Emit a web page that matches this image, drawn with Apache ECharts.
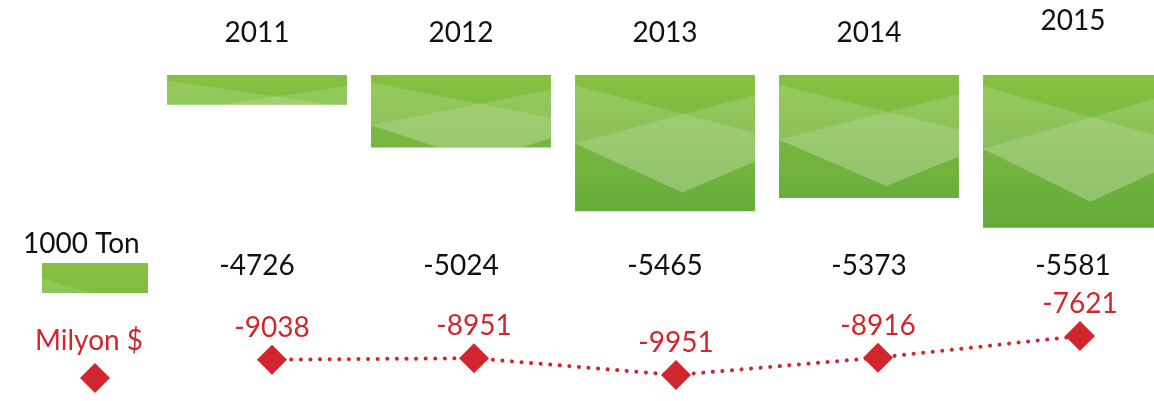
<!DOCTYPE html>
<html>
<head>
<meta charset="utf-8">
<script src="https://cdn.jsdelivr.net/npm/echarts@6/dist/echarts.min.js"></script>
<style>
  html, body { margin: 0; padding: 0; background: #fff; }
  #chart { width: 1154px; height: 401px; }
</style>
</head>
<body>
<div id="chart"></div>
<script>
// Yearly foreign trade balance: quantity (1000 Ton) and value (Milyon $)
const years = ['2011', '2012', '2013', '2014', '2015'];
const tonValues = [-4726, -5024, -5465, -5373, -5581];
const usdValues = [-9038, -8951, -9951, -8916, -7621];
const tonLabel = '1000 Ton';
const usdLabel = 'Milyon $';

const FONT = 'Lato, "Noto Sans", sans-serif';
const RED = '#d2262e';
const INK = '#111111';
const TON_MAX = -4520;
const TON_MIN = -5700;

const chart = echarts.init(document.getElementById('chart'), null, { renderer: 'canvas' });

// clip a polygon to the region y <= limit (Sutherland–Hodgman, one edge)
function clipBelow(points, limit) {
  const out = [];
  for (let k = 0; k < points.length; k++) {
    const a = points[k];
    const b = points[(k + 1) % points.length];
    const aIn = a[1] <= limit, bIn = b[1] <= limit;
    if (aIn) out.push(a);
    if (aIn !== bIn) {
      const t = (limit - a[1]) / (b[1] - a[1]);
      out.push([a[0] + t * (b[0] - a[0]), limit]);
    }
  }
  return out;
}

// light crossing facets laid over each block (relative coordinates)
const facetA = [[0, 0.072], [1, 0.41], [1, 0.61], [0.597, 0.83], [0, 0.484]];
const facetB = [[0, 0.484], [1, 0.14], [1, 0.61], [0.597, 0.83]];

function renderBlock(params, api) {
  const i = api.value(0);
  const v = api.value(1);
  const top = api.coord([i, TON_MAX]);
  const bot = api.coord([i, v]);
  const bw = api.size([1, 0])[0] * 0.882;
  const x0 = top[0] - bw / 2;
  const y0 = top[1];
  const h = bot[1] - top[1];
  const H = Math.max(h, 60 + 0.6 * h);
  const gridTop = params.coordSys.y;
  const gridH = params.coordSys.height;
  const fill = {
    type: 'linear', x: 0, y: gridTop, x2: 0, y2: gridTop + gridH, global: true,
    colorStops: [
      { offset: 0, color: '#86c241' },
      { offset: 1, color: '#5fa739' }
    ]
  };
  const facet = (pts) => {
    const abs = pts.map(p => [p[0] * bw, p[1] * H]);
    const clipped = clipBelow(abs, h).map(p => [x0 + p[0], y0 + p[1]]);
    return {
      type: 'polygon',
      shape: { points: clipped },
      style: { fill: 'rgba(255,255,255,0.14)' },
      silent: true
    };
  };
  return {
    type: 'group',
    children: [
      { type: 'rect', shape: { x: x0, y: y0, width: bw, height: h }, style: { fill: fill } },
      facet(facetA),
      facet(facetB)
    ]
  };
}

const option = {
  backgroundColor: '#ffffff',
  animation: false,
  textStyle: { fontFamily: FONT },
  grid: [
    { left: 155, top: 75, width: 1020, height: 170, outerBoundsMode: 'none' },
    { left: 171, top: 300, width: 1010, height: 90, outerBoundsMode: 'none' }
  ],
  xAxis: [
    {
      type: 'category', gridIndex: 0, position: 'top',
      data: years.map((y, i) => i === years.length - 1
        ? { value: y, textStyle: { padding: [0, 0, 12, 0] } }
        : y),
      axisLine: { show: false }, axisTick: { show: false },
      axisLabel: { color: INK, fontSize: 28, fontFamily: FONT, margin: 28 }
    },
    {
      type: 'category', gridIndex: 0, position: 'bottom',
      data: years,
      axisLine: { show: false }, axisTick: { show: false },
      axisLabel: {
        color: INK, fontSize: 28, fontFamily: FONT, margin: 7,
        formatter: (val, idx) => String(tonValues[idx])
      }
    },
    {
      type: 'category', gridIndex: 1, data: years, show: false
    }
  ],
  yAxis: [
    { type: 'value', gridIndex: 0, min: TON_MIN, max: TON_MAX, show: false },
    { type: 'value', gridIndex: 1, min: -10850, max: -5470, show: false }
  ],
  series: [
    {
      name: tonLabel,
      type: 'custom',
      xAxisIndex: 0, yAxisIndex: 0,
      data: tonValues.map((v, i) => [i, v]),
      encode: { x: 0, y: 1 },
      renderItem: renderBlock
    },
    {
      name: usdLabel,
      type: 'line',
      xAxisIndex: 2, yAxisIndex: 1,
      data: usdValues,
      symbol: 'diamond',
      symbolSize: 30,
      itemStyle: { color: RED },
      lineStyle: { color: RED, width: 4, type: [0.1, 9.5], cap: 'round' },
      label: {
        show: true, position: 'top', distance: 3,
        color: RED, fontSize: 28, fontFamily: FONT
      }
    }
  ],
  graphic: [
    {
      type: 'text', left: 23, top: 230,
      style: { text: tonLabel, fill: INK, font: '28px ' + FONT }
    },
    {
      type: 'group', left: 42, top: 263,
      children: [
        {
          type: 'rect', shape: { x: 0, y: 0, width: 106, height: 30 },
          style: {
            fill: {
              type: 'linear', x: 0, y: 0, x2: 0, y2: 1,
              colorStops: [{ offset: 0, color: '#86c241' }, { offset: 1, color: '#7fbd40' }]
            }
          }
        },
        {
          type: 'polygon', shape: { points: [[0, 15], [50, 30], [0, 30]] },
          style: { fill: 'rgba(255,255,255,0.12)' }
        }
      ]
    },
    {
      type: 'text', left: 35, top: 327,
      style: { text: usdLabel, fill: RED, font: '28px ' + FONT }
    },
    {
      type: 'polygon',
      shape: { points: [[95, 363], [110, 378], [95, 393], [80, 378]] },
      style: { fill: RED }
    }
  ]
};

chart.setOption(option);
</script>
</body>
</html>
